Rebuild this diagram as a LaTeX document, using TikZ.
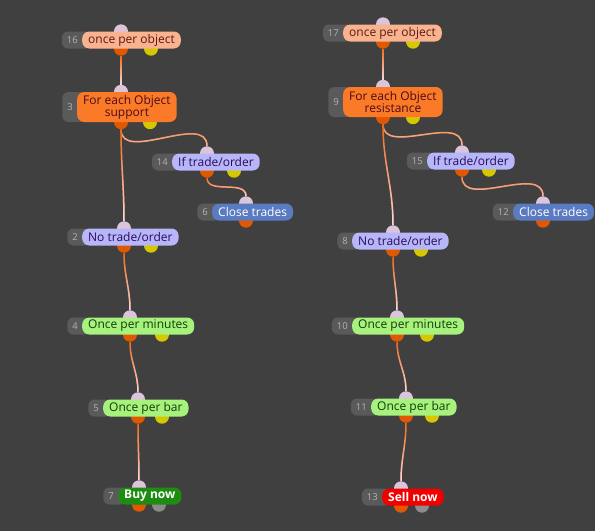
\documentclass[tikz,border=0pt]{standalone}
\usepackage{fontspec}
\setmainfont{Open Sans}
\usetikzlibrary{positioning, fadings}

\definecolor{canvas}{HTML}{404040}
\definecolor{tagfill}{HTML}{5A5A5A}
\definecolor{tagtext}{HTML}{B4B4B4}
\definecolor{oncefill}{HTML}{F9B38F}
\definecolor{oncetext}{HTML}{5C1A14}
\definecolor{loopfill}{HTML}{FB7A28}
\definecolor{looptext}{HTML}{4A0A18}
\definecolor{condfill}{HTML}{B6B6F8}
\definecolor{condtext}{HTML}{2C0C5C}
\definecolor{closefill}{HTML}{5A7BC2}
\definecolor{timefill}{HTML}{A6F27C}
\definecolor{timetext}{HTML}{123C0A}
\definecolor{buyfill}{HTML}{1E8C12}
\definecolor{sellfill}{HTML}{F20000}
\definecolor{portin}{HTML}{DCC4DC}
\definecolor{portout}{HTML}{E05800}
\definecolor{portaux}{HTML}{D6C800}
\definecolor{portoff}{HTML}{8C8C8C}
\definecolor{wireout}{HTML}{F06A18}
\definecolor{wirein}{HTML}{F6DCE8}

\tikzfading[name=fade down, top color=transparent!100, bottom color=transparent!0]

\pgfdeclarelayer{wires}
\pgfdeclarelayer{ports}
\pgfsetlayers{wires,ports,main}

\begin{document}
\begin{tikzpicture}[
    x=1pt, y=1pt,
    node distance=0pt,
    font=\fontsize{12}{12}\selectfont,
    box/.style={
        rectangle,
        rounded corners=7pt,
        minimum height=17pt,
        inner xsep=6pt,
        inner ysep=0pt,
        align=center
    },
    once/.style={box, fill=oncefill, text=oncetext},
    loopbox/.style={box, fill=loopfill, text=looptext, minimum height=30pt},
    cond/.style={box, fill=condfill, text=condtext},
    closebox/.style={box, fill=closefill, text=white},
    timer/.style={box, fill=timefill, text=timetext},
    buy/.style={
        box,
        fill=buyfill,
        text=white,
        font=\fontsize{12}{12}\selectfont\bfseries
    },
    sell/.style={
        box,
        fill=sellfill,
        text=white,
        font=\fontsize{12}{12}\selectfont\bfseries
    },
    tag/.style={
        rectangle,
        rounded corners=6pt,
        fill=tagfill,
        text=tagtext,
        minimum height=17pt,
        inner xsep=5pt,
        inner ysep=0pt,
        font=\fontsize{9.5}{10}\selectfont,
        execute at end node={\hspace{8pt}}
    },
    port/.style={circle, inner sep=0pt, minimum size=14pt},
    inport/.style={port, fill=portin},
    outport/.style={port, fill=portout},
    auxport/.style={port, fill=portaux},
    offport/.style={port, fill=portoff},
    link/.style={
        draw=wireout,
        line width=1.5pt,
        postaction={draw=wirein, path fading=fade down}
    }
]

    % Canvas
    \begin{pgfonlayer}{wires}
        \fill[canvas] (0,0) rectangle (595,-531);
    \end{pgfonlayer}
    \useasboundingbox (0,0) rectangle (595,-531);

    % Support chain
    \node[once, anchor=west] (n16) at (82,-40) {once per object};
    \node[loopbox, anchor=west] (n3) at (77,-107) {For each Object\\support};
    \node[cond, anchor=west] (n14) at (172,-162) {If trade/order};
    \node[closebox, anchor=west] (n6) at (212,-212) {Close trades};
    \node[cond, anchor=west] (n2) at (82,-237) {No trade/order};
    \node[timer, anchor=west] (n4) at (82,-326) {Once per minutes};
    \node[timer, anchor=west] (n5) at (103,-408) {Once per bar};
    \node[buy, anchor=west] (n7) at (118,-496) {Buy now};

    % Resistance chain
    \node[once, anchor=west] (n17) at (343,-33) {once per object};
    \node[loopbox, anchor=west] (n9) at (343,-102) {For each Object\\resistance};
    \node[cond, anchor=west] (n15) at (427,-161) {If trade/order};
    \node[closebox, anchor=west] (n12) at (513,-212) {Close trades};
    \node[cond, anchor=west] (n8) at (352,-241) {No trade/order};
    \node[timer, anchor=west] (n10) at (352,-326) {Once per minutes};
    \node[timer, anchor=west] (n11) at (371,-407) {Once per bar};
    \node[sell, anchor=west] (n13) at (382,-497) {Sell now};

    \begin{pgfonlayer}{ports}
        % Number tags
        \node[tag, left=-9pt of n16] (t16) {16};
        \node[tag, left=-9pt of n3, minimum height=30pt] (t3) {3};
        \node[tag, left=-9pt of n14] (t14) {14};
        \node[tag, left=-9pt of n6] (t6) {6};
        \node[tag, left=-9pt of n2] (t2) {2};
        \node[tag, left=-9pt of n4] (t4) {4};
        \node[tag, left=-9pt of n5] (t5) {5};
        \node[tag, left=-9pt of n7] (t7) {7};
        \node[tag, left=-9pt of n17] (t17) {17};
        \node[tag, left=-9pt of n9, minimum height=30pt] (t9) {9};
        \node[tag, left=-9pt of n15] (t15) {15};
        \node[tag, left=-9pt of n12] (t12) {12};
        \node[tag, left=-9pt of n8] (t8) {8};
        \node[tag, left=-9pt of n10] (t10) {10};
        \node[tag, left=-9pt of n11] (t11) {11};
        \node[tag, left=-9pt of n13] (t13) {13};

        % Ports, support chain
        \node[inport] (i16) at (121,0 |- n16.north) {};
        \node[outport] (o16) at (121,0 |- n16.south) {};
        \node[auxport] (a16) at (151,0 |- n16.south) {};
        \node[inport] (i3) at (121,0 |- n3.north) {};
        \node[outport] (o3) at (121,0 |- n3.south) {};
        \node[auxport] (a3) at (150,0 |- n3.south) {};
        \node[inport] (i14) at (207,0 |- n14.north) {};
        \node[outport] (o14) at (207,0 |- n14.south) {};
        \node[auxport] (a14) at (234,0 |- n14.south) {};
        \node[inport] (i6) at (246,0 |- n6.north) {};
        \node[outport] (o6) at (246,0 |- n6.south) {};
        \node[inport] (i2) at (124,0 |- n2.north) {};
        \node[outport] (o2) at (124,0 |- n2.south) {};
        \node[auxport] (a2) at (151,0 |- n2.south) {};
        \node[inport] (i4) at (130,0 |- n4.north) {};
        \node[outport] (o4) at (130,0 |- n4.south) {};
        \node[auxport] (a4) at (162,0 |- n4.south) {};
        \node[inport] (i5) at (138,0 |- n5.north) {};
        \node[outport] (o5) at (138,0 |- n5.south) {};
        \node[auxport] (a5) at (162,0 |- n5.south) {};
        \node[inport] (i7) at (139,0 |- n7.north) {};
        \node[outport] (o7) at (139,0 |- n7.south) {};
        \node[offport] (a7) at (159,0 |- n7.south) {};

        % Ports, resistance chain
        \node[inport] (i17) at (383,0 |- n17.north) {};
        \node[outport] (o17) at (383,0 |- n17.south) {};
        \node[auxport] (a17) at (413,0 |- n17.south) {};
        \node[inport] (i9) at (383,0 |- n9.north) {};
        \node[outport] (o9) at (383,0 |- n9.south) {};
        \node[auxport] (a9) at (413,0 |- n9.south) {};
        \node[inport] (i15) at (462,0 |- n15.north) {};
        \node[outport] (o15) at (462,0 |- n15.south) {};
        \node[auxport] (a15) at (489,0 |- n15.south) {};
        \node[inport] (i12) at (543,0 |- n12.north) {};
        \node[outport] (o12) at (543,0 |- n12.south) {};
        \node[inport] (i8) at (393,0 |- n8.north) {};
        \node[outport] (o8) at (393,0 |- n8.south) {};
        \node[auxport] (a8) at (421,0 |- n8.south) {};
        \node[inport] (i10) at (397,0 |- n10.north) {};
        \node[outport] (o10) at (397,0 |- n10.south) {};
        \node[auxport] (a10) at (427,0 |- n10.south) {};
        \node[inport] (i11) at (406,0 |- n11.north) {};
        \node[outport] (o11) at (406,0 |- n11.south) {};
        \node[auxport] (a11) at (432,0 |- n11.south) {};
        \node[inport] (i13) at (401,0 |- n13.north) {};
        \node[outport] (o13) at (401,0 |- n13.south) {};
        \node[offport] (a13) at (422,0 |- n13.south) {};
    \end{pgfonlayer}

    % Connections
    \begin{pgfonlayer}{wires}
        \draw[link] (o16) to[out=-90, in=90] (i3);
        \draw[link] (o3) to[out=-90, in=90] (i14);
        \draw[link] (o14) to[out=-90, in=90] (i6);
        \draw[link] (o3) to[out=-90, in=90] (i2);
        \draw[link] (o2) to[out=-90, in=90] (i4);
        \draw[link] (o4) to[out=-90, in=90] (i5);
        \draw[link] (o5) to[out=-90, in=90] (i7);
        \draw[link] (o17) to[out=-90, in=90] (i9);
        \draw[link] (o9) to[out=-90, in=90] (i15);
        \draw[link] (o15) to[out=-90, in=90] (i12);
        \draw[link] (o9) to[out=-90, in=90] (i8);
        \draw[link] (o8) to[out=-90, in=90] (i10);
        \draw[link] (o10) to[out=-90, in=90] (i11);
        \draw[link] (o11) to[out=-90, in=90] (i13);
    \end{pgfonlayer}

\end{tikzpicture}
\end{document}
